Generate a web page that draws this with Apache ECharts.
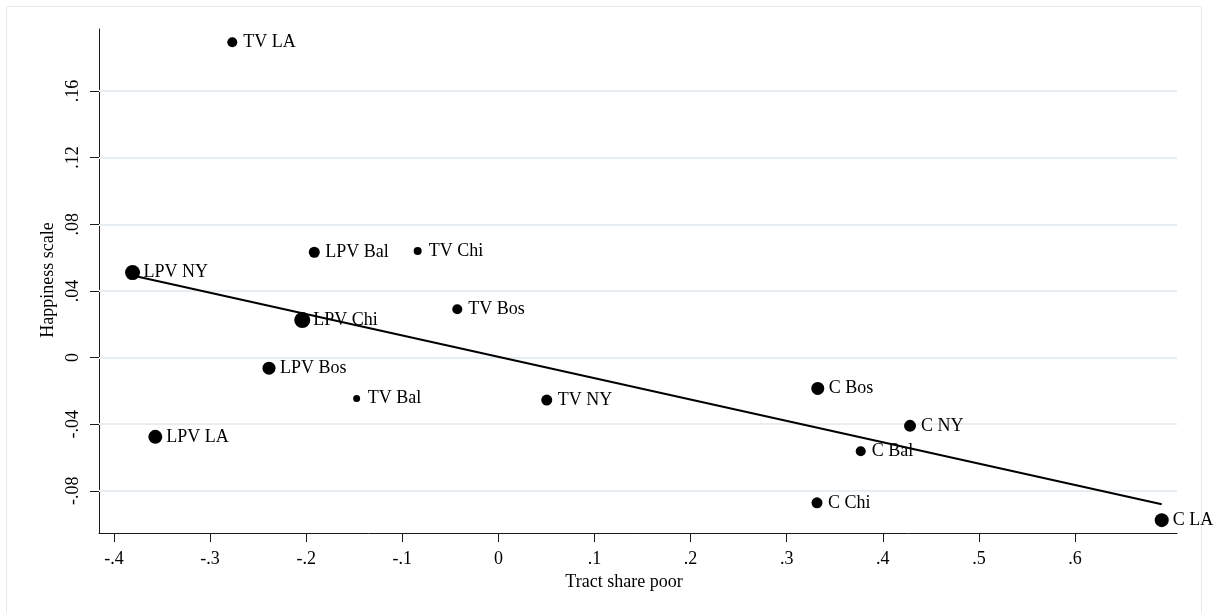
<!DOCTYPE html>
<html>
<head>
<meta charset="utf-8">
<script src="https://cdn.jsdelivr.net/npm/echarts@6/dist/echarts.min.js"></script>
<style>
html,body{margin:0;padding:0;background:#fff;}
#chart{width:1217px;height:613px;}
</style>
</head>
<body>
<div id="chart"></div>
<script>
// ---- data ----
const labels = ['TV LA','LPV NY','LPV Bal','TV Chi','LPV Chi','TV Bos','LPV Bos','TV Bal','TV NY','LPV LA','C Bos','C NY','C Bal','C Chi','C LA'];
const shareX = [-0.2769,-0.3807,-0.1916,-0.0840,-0.2041,-0.0428,-0.2387,-0.1475,0.0503,-0.3570,0.3323,0.4283,0.3770,0.3315,0.6902];
const happyY = [0.1893,0.0510,0.0632,0.0640,0.0225,0.0290,-0.0064,-0.0245,-0.0255,-0.0476,-0.0185,-0.0410,-0.0562,-0.0872,-0.0976];
const weights = [100,225,121,64,256,100,169,49,121,196,169,144,100,121,196];
const fitX = [-0.3807, 0.6902];
const fitY = [0.0492, -0.0880];
const xTicks = [-0.4,-0.3,-0.2,-0.1,0,0.1,0.2,0.3,0.4,0.5,0.6];
const yTicks = [-0.08,-0.04,0,0.04,0.08,0.12,0.16];

const FONT = '"Liberation Serif","Times New Roman",serif';
function fmt(v){
  if (Math.abs(v) < 1e-9) return '0';
  let s = String(Math.round(v*100)/100);
  return s.replace(/^(-?)0\./, '$1.');
}

const chart = echarts.init(document.getElementById('chart'), null, {renderer:'canvas'});

const pts = shareX.map((x,i)=>{
  const d = Math.sqrt(weights[i]);
  return {
    value:[x, happyY[i]],
    name: labels[i],
    symbolSize: d,
    label:{show:true, position:'right', distance: 11 - d/2, offset:[0,3], formatter: labels[i]}
  };
});

const option = {
  animation:false,
  backgroundColor:'#ffffff',
  grid:{left:99, right:40, top:29, bottom:80, containLabel:false},
  xAxis:{
    type:'value', min:-0.4156, max:0.7061,
    axisLine:{show:true, onZero:false, lineStyle:{color:'#1a1a1a', width:1}},
    axisTick:{show:true, length:9, inside:false, customValues:xTicks, lineStyle:{color:'#1a1a1a'}},
    axisLabel:{customValues:xTicks, formatter:fmt, margin:17, fontFamily:FONT, fontSize:18, color:'#000'},
    splitLine:{show:false}
  },
  yAxis:{
    type:'value', min:-0.1053, max:0.1972,
    axisLine:{show:true, onZero:false, lineStyle:{color:'#1a1a1a', width:1}},
    axisTick:{show:true, length:9, inside:false, customValues:yTicks, lineStyle:{color:'#1a1a1a'}},
    axisLabel:{customValues:yTicks, formatter:fmt, rotate:90, margin:17, fontFamily:FONT, fontSize:18, color:'#000'},
    splitLine:{show:false}
  },
  graphic:[
    {type:'rect', shape:{x:6.5, y:6.5, width:1195, height:620}, style:{fill:'none', stroke:'#e3ebef', lineWidth:1}, silent:true, z:-1},
    {type:'text', x:624, y:582, style:{text:'Tract share poor', font:'18px '+FONT, fill:'#000', align:'center', verticalAlign:'middle'}},
    {type:'text', x:48, y:280, rotation:Math.PI/2, style:{text:'Happiness scale', font:'18px '+FONT, fill:'#000', align:'center', verticalAlign:'middle'}}
  ],
  series:[
    {
      type:'line', data: [], silent:true, showSymbol:false, z:1,
      markLine:{
        silent:true, symbol:['none','none'], z:1,
        label:{show:false},
        emphasis:{disabled:true},
        lineStyle:{color:'#e6eef2', width:2, type:'solid'},
        data: yTicks.map(v=>({yAxis:v}))
      }
    },
    {
      type:'line', data: fitX.map((x,i)=>[x, fitY[i]]), showSymbol:false, silent:true,
      lineStyle:{color:'#000', width:2}, z:3
    },
    {
      type:'scatter', data: pts, symbol:'circle',
      itemStyle:{color:'#000', opacity:1},
      label:{color:'#000', fontFamily:FONT, fontSize:18, align:'left', verticalAlign:'middle'},
      labelLayout:{hideOverlap:false},
      z:4
    }
  ]
};
chart.setOption(option);
</script>
</body>
</html>
